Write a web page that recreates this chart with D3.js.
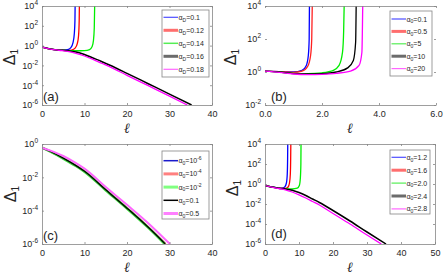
<!DOCTYPE html>
<html>
<head>
<meta charset="utf-8">
<script src="https://cdn.jsdelivr.net/npm/d3@7"></script>
<style>
  body { margin: 0; background: #fff; }
  text { font-family: "Liberation Sans", Arial, sans-serif; fill: #262626; }
</style>
</head>
<body>
<script>
// [ell, log10(Delta_1)]
// panel (a)
var a_blue    = [[0,-0.15],[2,-0.35],[4,-0.45],[5,-0.47],[6,-0.42],[6.8,-0.2],[7.3,0.3],[7.6,1.2],[7.75,2.5],[7.8,4.2]];
var a_red     = [[0,-0.15],[2,-0.35],[4,-0.46],[6,-0.5],[7,-0.45],[7.8,-0.25],[8.3,0.2],[8.6,1.0],[8.75,2.5],[8.8,4.2]];
var a_green   = [[0,-0.15],[2,-0.35],[4,-0.46],[6,-0.5],[8,-0.52],[10,-0.5],[11.2,-0.4],[11.8,-0.1],[12.1,0.5],[12.3,1.8],[12.4,4.2]];
var a_black   = [[0,-0.15],[2,-0.35],[4,-0.45],[6,-0.52],[8,-0.65],[10,-0.9],[12,-1.25],[14,-1.6],[16,-1.98],[20,-2.8],[25,-3.85],[30,-4.9],[35.2,-6]];
var a_magenta = [[0,-0.15],[2,-0.35],[4,-0.47],[6,-0.58],[8,-0.78],[10,-1.05],[12,-1.4],[14,-1.78],[16,-2.15],[20,-3.0],[25,-4.05],[30,-5.1],[34.2,-6]];
var a_labels  = ["0.1", "0.12", "0.14", "0.16", "0.18"];

// panel (b)
var b_blue    = [[0,0.05],[0.5,0.02],[1,0.0],[1.3,0.1],[1.45,0.4],[1.52,1.0],[1.55,2],[1.56,4.2]];
var b_red     = [[0,0.05],[0.5,0.02],[1,-0.02],[1.3,0.05],[1.5,0.35],[1.6,1.0],[1.64,2],[1.66,4.2]];
var b_green   = [[0,0.05],[0.5,0.0],[1,-0.08],[1.5,-0.1],[2,-0.05],[2.4,0.1],[2.6,0.4],[2.72,1.2],[2.76,2.5],[2.78,4.2]];
var b_black   = [[0,0.05],[0.5,0.0],[1,-0.1],[1.5,-0.12],[2,-0.1],[2.5,0.0],[2.9,0.25],[3.1,0.7],[3.18,1.8],[3.2,4.2]];
var b_magenta = [[0,0.05],[0.5,-0.02],[1,-0.12],[1.5,-0.16],[2,-0.14],[2.5,-0.08],[3,0.05],[3.3,0.4],[3.4,1.2],[3.43,4.2]];
var b_labels  = ["0.1", "0.5", "5", "10", "20"];

// panel (c)
var c_blue    = [[0,-0.22],[2,-0.45],[5,-0.85],[8,-1.3],[10,-1.63],[15,-2.74],[20,-3.84],[25,-4.98],[29.1,-6]];
var c_red     = [[0,-0.22],[2,-0.45],[5,-0.85],[8,-1.3],[10,-1.63],[15,-2.74],[20,-3.84],[25,-4.98],[29.1,-6]];
var c_green   = [[0,-0.22],[2,-0.46],[5,-0.87],[8,-1.32],[10,-1.66],[15,-2.77],[20,-3.87],[25,-5.02],[28.9,-6]];
var c_black   = [[0,-0.22],[2,-0.45],[5,-0.85],[8,-1.3],[10,-1.64],[15,-2.75],[20,-3.85],[25,-5.0],[29,-6]];
var c_magenta = [[0,-0.22],[2,-0.4],[5,-0.72],[8,-1.15],[10,-1.48],[15,-2.58],[20,-3.65],[25,-4.75],[30.1,-6]];
var c_labels  = ["10^-6", "10^-4", "10^-2", "0.1", "0.5"];

// panel (d)
var d_blue    = [[0,-0.17],[2,-0.3],[4,-0.4],[5,-0.42],[5.8,-0.3],[6.3,0.1],[6.55,1.0],[6.65,2.5],[6.7,4.2]];
var d_red     = [[0,-0.17],[2,-0.3],[4,-0.42],[6,-0.45],[6.8,-0.3],[7.2,0.1],[7.45,1.0],[7.55,2.5],[7.6,4.2]];
var d_green   = [[0,-0.17],[2,-0.3],[4,-0.43],[6,-0.48],[8,-0.5],[9.5,-0.42],[10.1,-0.15],[10.4,0.6],[10.55,2],[10.6,4.2]];
var d_black   = [[0,-0.17],[2,-0.3],[4,-0.42],[6,-0.5],[8,-0.62],[10,-0.85],[12,-1.15],[14,-1.5],[16,-1.85],[20,-2.65],[25,-3.7],[30,-4.8],[35.6,-6]];
var d_magenta = [[0,-0.17],[2,-0.32],[4,-0.45],[6,-0.58],[8,-0.8],[10,-1.08],[12,-1.4],[14,-1.75],[16,-2.1],[20,-2.95],[25,-4.0],[30,-5.1],[34.2,-6]];
var d_labels  = ["1.2", "1.6", "2.0", "2.4", "2.8"];

var svg = d3.select("body").append("svg")
    .attr("width", 443)
    .attr("height", 277);

var grey = "#858585";

// one entry per panel, built from the arrays above
var panels = [
  { name: "(a)", box: [42, 212, 6, 105], xdom: [0, 40], xticks: [0, 10, 20, 30, 40],
    ydom: [-6, 4], yticks: [4, 2, 0, -2, -4, -6], sub: "D", side: true,
    series: [a_blue, a_red, a_green, a_black, a_magenta], labels: a_labels,
    legend: [162, 10, 47, 67], rowTop: 7.3, rowStep: 13, leg_w: [1.2, 3, 1.5, 3, 1.2],
    colors: ["#4d4dff", "#ff6e6e", "#55ee55", "#6b6b6b", "#ff66ff"],
    lineColors: ["#0000ff", "#ff0000", "#00ee00", "#000000", "#ff00ff"], plotW: [1.3, 1.3, 1.3, 1.5, 1.3],
    letter: [43, 101], delta: [9, 57], ell: [127, 133] },
  { name: "(b)", box: [265, 436, 6, 105], xdom: [0, 6], xticks: [0, 2, 4, 6],
    ydom: [-2, 4], yticks: [4, 2, 0, -2], sub: "0", side: false,
    series: [b_blue, b_red, b_green, b_black, b_magenta], labels: b_labels,
    legend: [390, 11, 42, 65], rowTop: 8, rowStep: 12.4, leg_w: [1.2, 3, 1.2, 3, 1.2],
    colors: ["#4d4dff", "#ff6e6e", "#55ee55", "#6b6b6b", "#ff66ff"],
    lineColors: ["#0000ff", "#ff2020", "#00ee00", "#000000", "#ff00ff"], plotW: [1.3, 1.3, 1.3, 1.3, 1.3],
    letter: [271, 101], delta: [230, 57], ell: [350, 133] },
  { name: "(c)", box: [42, 212, 144, 244], xdom: [0, 40], xticks: [0, 10, 20, 30, 40],
    ydom: [-6, 0], yticks: [0, -2, -4, -6], sub: "0", side: true,
    series: [c_blue, c_red, c_green, c_black, c_magenta], labels: c_labels,
    legend: [162, 151, 47, 68], rowTop: 9.7, rowStep: 13.2, leg_w: [1.5, 3, 3, 1.5, 3],
    colors: ["#1a1acc", "#ff8080", "#80ff80", "#000000", "#ff80ff"],
    lineColors: ["#1a1acc", "#ff8080", "#40dd40", "#000000", "#ff66ff"], plotW: [1.3, 2, 2.6, 1.3, 2],
    letter: [43, 240], delta: [10, 194], ell: [127, 272] },
  { name: "(d)", box: [265, 435, 144, 244], xdom: [0, 50], xticks: [0, 10, 20, 30, 40, 50],
    ydom: [-6, 4], yticks: [4, 2, 0, -2, -4, -6], sub: "0", side: true,
    series: [d_blue, d_red, d_green, d_black, d_magenta], labels: d_labels,
    legend: [390, 150, 40, 64], rowTop: 7.3, rowStep: 12.9, leg_w: [1.2, 3, 1.2, 3, 1.2],
    colors: ["#4d4dff", "#ff6e6e", "#55ee55", "#6b6b6b", "#ff66ff"],
    lineColors: ["#0000ff", "#ff0000", "#00ee00", "#000000", "#ff00ff"], plotW: [1.3, 1.3, 1.3, 1.5, 1.3],
    letter: [271, 238], delta: [232, 188], ell: [350, 272] }
];

// writes "10" with a superscript exponent into a text node
function power_label(sel, exp) {
  sel.text("");
  sel.append("tspan").text("10");
  sel.append("tspan").attr("dy", -4).style("font-size", "6.5px").text(exp);
}

panels.forEach(function(p, k) {
  var x0 = p.box[0], x1 = p.box[1], y0 = p.box[2], y1 = p.box[3];

  var x_scale = d3.scaleLinear().domain(p.xdom).range([x0, x1]);
  var y_scale = d3.scaleLog()
      .domain([Math.pow(10, p.ydom[0]), Math.pow(10, p.ydom[1])])
      .range([y1, y0]);

  var g = svg.append("g");

  // clip so the diverging curves stop at the top
  svg.append("clipPath").attr("id", "clip" + k)
    .append("rect").attr("x", x0).attr("y", y0).attr("width", x1 - x0).attr("height", y1 - y0);

  var line = d3.line()
      .x(function(d) { return x_scale(d[0]); })
      .y(function(d) { return y_scale(Math.pow(10, d[1])); })
      .curve(d3.curveMonotoneX);

  g.append("g").attr("clip-path", "url(#clip" + k + ")")
    .selectAll("path")
    .data(p.series)
    .enter()
    .append("path")
      .attr("d", line)
      .attr("fill", "none")
      .attr("stroke", function(d, i) { return p.lineColors[i]; })
      .attr("stroke-width", function(d, i) { return p.plotW[i]; });

  var yvals = p.yticks.map(function(e) { return Math.pow(10, e); });

  // axes, ticks pointing inwards
  var bottom = g.append("g").attr("transform", "translate(0," + y1 + ")")
      .call(d3.axisBottom(x_scale).tickValues(p.xticks).tickSizeInner(-2).tickSizeOuter(0).tickPadding(4));
  var top = g.append("g").attr("transform", "translate(0," + y0 + ")")
      .call(d3.axisTop(x_scale).tickValues(p.xticks).tickFormat("").tickSizeInner(-2).tickSizeOuter(0));
  var left = g.append("g").attr("transform", "translate(" + x0 + ",0)")
      .call(d3.axisLeft(y_scale).tickValues(yvals).tickSizeInner(-2).tickSizeOuter(0).tickPadding(4));
  var right = g.append("g").attr("transform", "translate(" + x1 + ",0)")
      .call(d3.axisRight(y_scale).tickValues(yvals).tickFormat("").tickSizeInner(-2).tickSizeOuter(0));

  [bottom, top, left, right].forEach(function(ax) {
    ax.selectAll("path, line").attr("stroke", grey).attr("stroke-width", 0.8);
    ax.selectAll("text").style("font-size", "9px").attr("fill", "#262626");
  });
  if (!p.side) {
    left.select(".domain").remove();
    right.select(".domain").remove();
  }
  bottom.selectAll("text").attr("dy", "0.85em");
  left.selectAll(".tick text").each(function(d) {
    power_label(d3.select(this), String(Math.round(Math.log10(d))));
  });

  // legend
  var lx = p.legend[0], ly = p.legend[1];
  var leg = g.append("g");
  leg.append("rect")
    .attr("x", lx).attr("y", ly).attr("width", p.legend[2]).attr("height", p.legend[3])
    .attr("fill", "#fff").attr("stroke", grey).attr("stroke-width", 0.8);
  p.labels.forEach(function(lab, i) {
    var yy = ly + p.rowTop + i * p.rowStep;
    leg.append("line")
      .attr("x1", lx + 1.5).attr("x2", lx + 16).attr("y1", yy).attr("y2", yy)
      .attr("stroke", p.colors[i]).attr("stroke-width", p.leg_w[i]);
    var t = leg.append("text").attr("x", lx + 16.5).attr("y", yy + 2.5).style("font-size", "7px");
    t.append("tspan").text("\u03b1");
    t.append("tspan").attr("dy", 1.8).style("font-size", "5px").text(p.sub);
    if (lab.indexOf("^") >= 0) {
      var parts = lab.split("^");
      t.append("tspan").attr("dy", -1.8).text("=" + parts[0]);
      t.append("tspan").attr("dy", -3).style("font-size", "5px").text(parts[1]);
    } else {
      t.append("tspan").attr("dy", -1.8).text("=" + lab);
    }
  });

  // panel letter
  g.append("text").attr("x", p.letter[0]).attr("y", p.letter[1])
    .style("font-size", "13px").text(p.name);

  // y label, Delta_1
  var dl = g.append("text")
    .attr("transform", "translate(" + p.delta[0] + "," + p.delta[1] + ") rotate(-90)")
    .attr("text-anchor", "middle")
    .attr("dy", "0.35em")
    .style("font-size", "16px");
  dl.append("tspan").text("\u0394");
  dl.append("tspan").attr("dy", 3).style("font-size", "10px").text("1");

  // x label, ell
  g.append("text").attr("x", p.ell[0]).attr("y", p.ell[1])
    .attr("text-anchor", "middle")
    .style("font-size", "14px")
    .style("font-family", "DejaVu Serif")
    .style("font-style", "italic")
    .text("\u2113");
});
</script>
</body>
</html>
